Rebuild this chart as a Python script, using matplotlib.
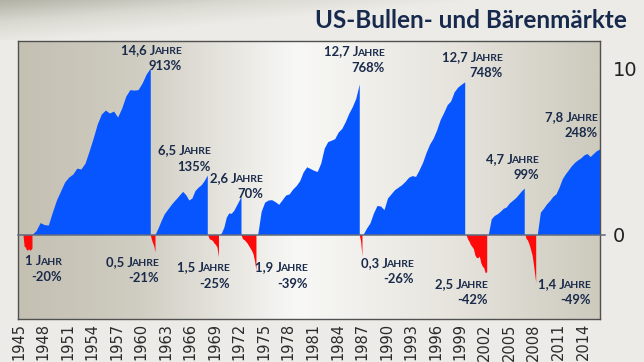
import matplotlib
matplotlib.use("Agg")
import matplotlib.pyplot as plt
import numpy as np
from matplotlib.colors import LinearSegmentedColormap
from matplotlib.offsetbox import TextArea, HPacker, VPacker, AnnotationBbox

# Phasen (Bär/Bulle), Beginn und Ende in Jahren
phase_kind = ['bear', 'bull', 'bear', 'bull', 'bear', 'bull', 'bear',
              'bull', 'bear', 'bull', 'bear', 'bull', 'bear', 'bull']
phase_start = [1945.55, 1946.65, 1961.11, 1961.69, 1968.13, 1969.51, 1972.20,
               1974.24, 1986.66, 1987.11, 1999.71, 2002.43, 2006.92, 2008.42]
phase_end = [1946.65, 1961.11, 1961.69, 1968.08, 1969.45, 1972.20, 1974.03,
             1986.66, 1986.99, 1999.55, 2002.24, 2006.83, 2008.23, 2016.03]
durations = ['1 Jahr', '14,6 Jahre', '0,5 Jahre', '6,5 Jahre', '1,5 Jahre',
             '2,6 Jahre', '1,9 Jahre', '12,7 Jahre', '0,3 Jahre', '12,7 Jahre',
             '2,5 Jahre', '4,7 Jahre', '1,4 Jahre', '7,8 Jahre']
changes = ['-20%', '913%', '-21%', '135%', '-25%', '70%', '-39%', '768%',
           '-26%', '748%', '-42%', '99%', '-49%', '248%']

# Verlauf je Phase (Skala der Grafik, 0 = Beginn der Phase)
bear_1946 = [0, -0.7, -0.75, -0.9, -0.95, -0.85, -0.95, -0.9, -0.8]
bull_1946 = [0, 0.24, 0.72, 0.6, 0.57, 1.36, 2.08, 2.62, 3.16, 3.46, 3.64, 4.0,
             3.95, 4.3, 5.03, 5.81, 6.66, 7.26, 7.5, 7.32, 7.44, 7.08, 7.62,
             8.34, 8.73, 8.7, 8.73, 9.13, 9.67, 10.03]
bear_1961 = [0, -0.3, -0.5, -0.7, -1.04]
bull_1962 = [0, 0.4, 0.85, 1.25, 1.5, 1.75, 1.98, 2.18, 2.4, 2.6, 2.4, 2.08,
             2.2, 2.65, 2.85, 3.0, 3.25, 3.58]
bear_1968 = [0, -0.25, -0.3, -0.35, -0.5, -0.6, -0.75, -1.34]
bull_1970 = [0, 0.1, 0.45, 1.05, 1.3, 1.28, 1.45, 1.72, 2.0, 2.3]
bear_1973 = [0, -0.25, -0.3, -0.4, -0.5, -0.65, -0.8, -0.95, -1.15, -1.55, -2.14]
bull_1974 = [0, 1.4, 1.95, 2.08, 2.1, 1.98, 1.82, 2.1, 2.38, 2.45, 2.74, 2.95,
             3.25, 3.78, 4.08, 3.98, 3.87, 3.8, 4.3, 5.2, 5.6, 5.68, 5.78, 6.18,
             6.39, 6.8, 7.3, 7.7, 8.2, 9.07]
bear_1987 = [0, -0.4, -1.3]
bull_1987 = [0, 0.38, 0.7, 1.3, 1.75, 1.72, 1.5, 2.2, 2.45, 2.7, 2.85, 3.0, 3.2,
             3.45, 3.55, 3.5, 3.9, 4.35, 4.95, 5.45, 5.8, 6.3, 6.92, 7.35, 7.82,
             8.05, 8.6, 8.88, 9.05, 9.2]
bear_2000 = [0, -0.25, -0.4, -0.6, -0.72, -0.85, -1.23, -1.38, -1.4, -1.3, -1.7,
             -1.9, -2.0, -2.3, -2.24]
bull_2002 = [0, 0.95, 1.15, 1.25, 1.4, 1.58, 1.66, 1.9, 2.05, 2.2, 2.4, 2.62, 2.8]
bear_2007 = [0, -0.25, -0.32, -0.5, -0.72, -0.98, -1.25, -1.75, -2.3, -2.88]
bull_2009 = [0, 1.35, 1.58, 1.85, 2.05, 2.3, 2.45, 2.85, 3.35, 3.65, 3.9, 4.15,
             4.35, 4.5, 4.62, 4.8, 4.88, 4.7, 4.88, 5.05, 5.15]
phase_values = [bear_1946, bull_1946, bear_1961, bull_1962, bear_1968, bull_1970,
                bear_1973, bull_1974, bear_1987, bull_1987, bear_2000, bull_2002,
                bear_2007, bull_2009]

year_ticks = list(range(1945, 2015, 3))

# Lage der Beschriftungen (rechter Rand, Mitte), Layout
label_pos = [(1950.32, -2.08), (1964.99, 10.63), (1962.18, -2.14), (1968.53, 4.58),
             (1970.86, -2.47), (1974.89, 2.92), (1980.39, -2.47), (1989.8, 10.54),
             (1993.35, -2.2), (2004.23, 10.21), (2002.39, -3.46), (2008.63, 4.07),
             (2014.98, -3.46), (2015.84, 6.6)]

BLUE = '#0755ff'
RED = '#ff0a0a'
NAVY = '#1a2a4a'
FONT = 'Lato'

fig = plt.figure(figsize=(6.44, 3.62), dpi=100)
fig.patch.set_facecolor('#ecebe7')

# Hintergrund der Figur mit grauem Band oben
bg = fig.add_axes([0, 0, 1, 1], zorder=-5)
bg.axis('off')
top_cmap = LinearSegmentedColormap.from_list('top', ['#b3b2a6', '#d9d8d0', '#ecebe7', '#ecebe7'])
gx = np.linspace(0, 1, 256)
gy = np.linspace(0, 1, 64)
grad = np.clip(gx[None, :] * 0.9 + gy[:, None] * 0.6, 0, 1)
bg.imshow(grad, cmap=top_cmap, extent=[0, 1, 0.89, 1], aspect='auto', origin='upper')
bg.set_xlim(0, 1)
bg.set_ylim(0, 1)

ax = fig.add_axes([18 / 644, 43 / 362, 582 / 644, 278 / 362])
xmin, xmax = 1944.94, 2016.09
ymin, ymax = -5.09, 11.66

# Verlaufshintergrund im Diagramm
ax_cmap = LinearSegmentedColormap.from_list(
    'ax', [(0, '#c4c0b2'), (0.2, '#cfccc1'), (0.48, '#f8f8f6'), (0.75, '#e6e4dd'), (1, '#cdcabe')])
hx = np.linspace(0, 1, 300)
ax.imshow(hx[None, :], cmap=ax_cmap, extent=[xmin, xmax, ymin, ymax],
          aspect='auto', zorder=0, interpolation='bilinear')

for kind, s, e, vals in zip(phase_kind, phase_start, phase_end, phase_values):
    xs = np.linspace(s, e, len(vals))
    ax.fill_between(xs, 0, vals, color=BLUE if kind == 'bull' else RED,
                    linewidth=0, zorder=2)

ax.axhline(0, xmin=0, xmax=1.009, color='#5d6b82', lw=1.1, zorder=3, clip_on=False)

ax.set_xlim(xmin, xmax)
ax.set_ylim(ymin, ymax)

for sp in ax.spines.values():
    sp.set_color('#505050')
    sp.set_linewidth(1.0)

ax.set_xticks(year_ticks)
ax.set_xticklabels([str(y) for y in year_ticks], rotation=90, fontsize=10.5,
                   color='#2a2a2a')
ax.yaxis.tick_right()
ax.set_yticks([0, 10])
ax.set_yticklabels(['0', '10'], fontsize=14, color='#222222')
ax.tick_params(axis='x', length=0, pad=3)
ax.tick_params(axis='y', length=0, pad=9)

# Beschriftungen mit Kapitälchen
props_big = dict(fontsize=9.4, fontweight='bold', color=NAVY, family=FONT)
props_small = dict(fontsize=7.5, fontweight='bold', color=NAVY, family=FONT)
for dur, chg, pos in zip(durations, changes, label_pos):
    num, word = dur.split(' ')
    line1 = HPacker(children=[TextArea(num + ' ' + word[0], textprops=props_big),
                              TextArea(word[1:].upper(), textprops=props_small)],
                    align='baseline', pad=0, sep=-1.0)
    line2 = TextArea(chg, textprops=props_big)
    box = VPacker(children=[line1, line2], align='right', pad=0, sep=3)
    ab = AnnotationBbox(box, pos, xycoords='data', box_alignment=(1, 0.5),
                        frameon=False, zorder=5)
    ax.add_artist(ab)

fig.text(627 / 644, 1 - 21 / 362, 'US-Bullen- und Bärenmärkte', ha='right',
         va='center', fontsize=17.5, fontweight='bold', color='#172a4e', family=FONT)

fig.savefig('out.png', dpi=100, facecolor=fig.get_facecolor())
